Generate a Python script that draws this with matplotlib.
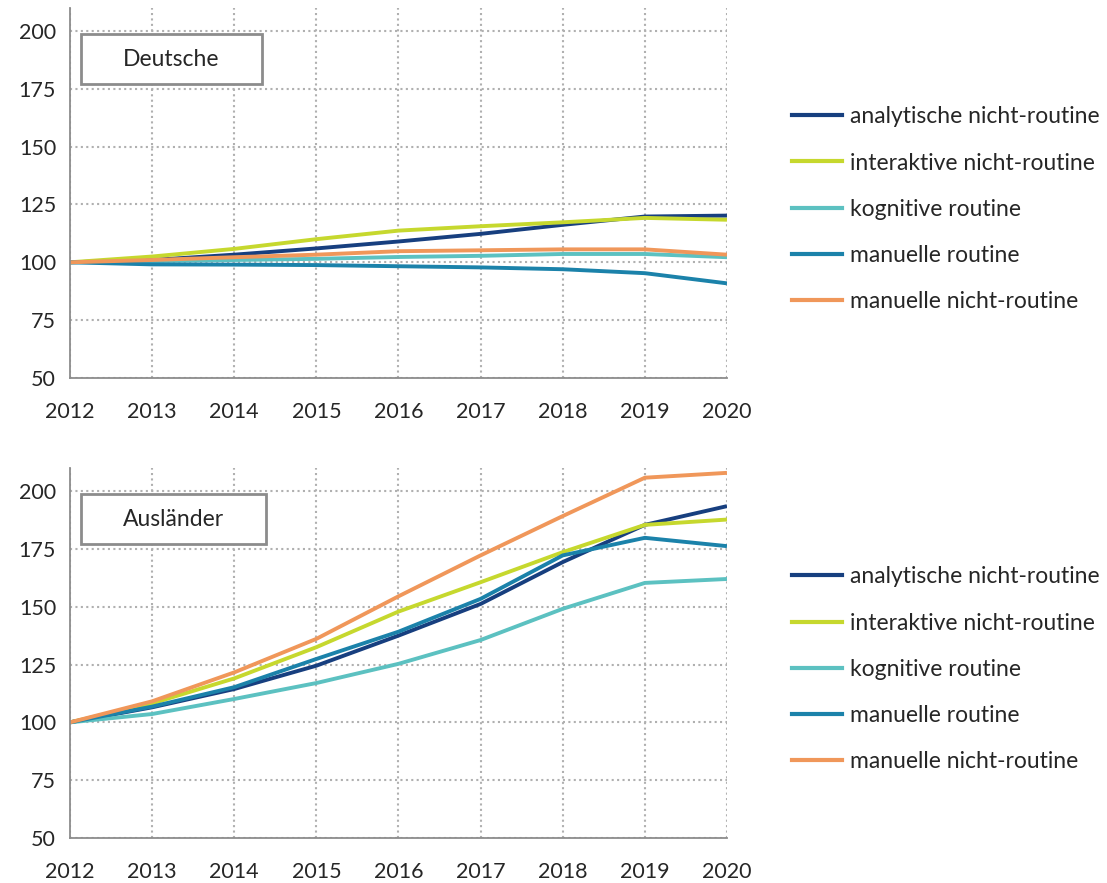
import matplotlib.pyplot as plt
from matplotlib.lines import Line2D
from matplotlib.patches import Rectangle

plt.rcParams["font.family"] = ["Lato", "DejaVu Sans"]

years = [2012, 2013, 2014, 2015, 2016, 2017, 2018, 2019, 2020]
labels = ['analytische nicht-routine', 'interaktive nicht-routine', 'kognitive routine',
          'manuelle routine', 'manuelle nicht-routine']
colors = ['#173f7f', '#c6d82e', '#5cc1c1', '#1b82aa', '#f0975a']

# Deutsche
de_analytisch = [100, 101.0, 103.3, 106.0, 109.0, 112.3, 116.2, 119.8, 120.2]
de_interaktiv = [100, 102.5, 105.8, 110.0, 113.7, 115.6, 117.3, 119.2, 118.4]
de_kognitiv = [100, 100.5, 101.0, 101.5, 102.3, 102.8, 103.6, 103.6, 102.2]
de_man_routine = [100, 99.1, 99.0, 98.8, 98.3, 97.8, 97.0, 95.3, 90.9]
de_man_nicht = [100, 101.0, 102.2, 103.3, 104.8, 105.2, 105.6, 105.6, 103.3]

# Ausländer
au_analytisch = [100, 106.5, 114.4, 124.5, 137.5, 151.2, 169.3, 185.4, 193.5]
au_interaktiv = [100, 108.2, 119.0, 132.5, 147.9, 160.6, 173.6, 185.4, 187.7]
au_kognitiv = [100, 103.6, 110.1, 117.0, 125.3, 135.6, 149.1, 160.3, 162.0]
au_man_routine = [100, 106.8, 115.2, 127.4, 139.2, 153.4, 172.2, 179.8, 176.2]
au_man_nicht = [100, 109.1, 121.6, 136.1, 154.5, 172.2, 189.2, 205.8, 207.9]

panels = [
    ('Deutsche', [de_analytisch, de_interaktiv, de_kognitiv, de_man_routine, de_man_nicht]),
    ('Ausländer', [au_analytisch, au_interaktiv, au_kognitiv, au_man_routine, au_man_nicht]),
]

fig = plt.figure(figsize=(11.07, 8.83), dpi=100)
ax_pos = [[0.0632, 0.572, 0.5935, 0.419], [0.0632, 0.051, 0.5935, 0.419]]
box_w = [0.276, 0.281]

for (title, series), pos, bw in zip(panels, ax_pos, box_w):
    ax = fig.add_axes(pos)
    for vals, c in zip(series, colors):
        ax.plot(years, vals, color=c, lw=2.8, solid_capstyle='butt')
    ax.set_xlim(2012, 2020)
    ax.set_ylim(50, 210)
    ax.set_yticks([50, 75, 100, 125, 150, 175, 200])
    ax.set_xticks(years)
    ax.grid(True, linestyle=(0, (1, 1.6)), color='#b0b0b0', lw=1.5)
    ax.set_axisbelow(True)
    for s in ['top', 'right']:
        ax.spines[s].set_visible(False)
    for s in ['left', 'bottom']:
        ax.spines[s].set_color('#8c8c8c')
        ax.spines[s].set_linewidth(1.3)
    ax.tick_params(length=0, labelsize=15.5, colors='#262626', pad=10)
    ax.tick_params(axis='x', pad=17)
    ax.add_patch(Rectangle((0.0167, 0.795), bw, 0.135, transform=ax.transAxes,
                           fc='white', ec='#8c8c8c', lw=2, zorder=5))
    ax.text(0.0167 + bw / 2, 0.862, title, transform=ax.transAxes, ha='center', va='center',
            fontsize=16.5, color='#262626', zorder=6)
    handles = [Line2D([], [], color=c, lw=3) for c in colors]
    ax.legend(handles, labels, loc='center left', bbox_to_anchor=(1.099, 0.456),
              frameon=False, fontsize=16.5, handlelength=2.2, handletextpad=0.35,
              labelspacing=1.1, labelcolor='#262626', borderpad=0, borderaxespad=0)

fig.savefig('out.png', dpi=100)
